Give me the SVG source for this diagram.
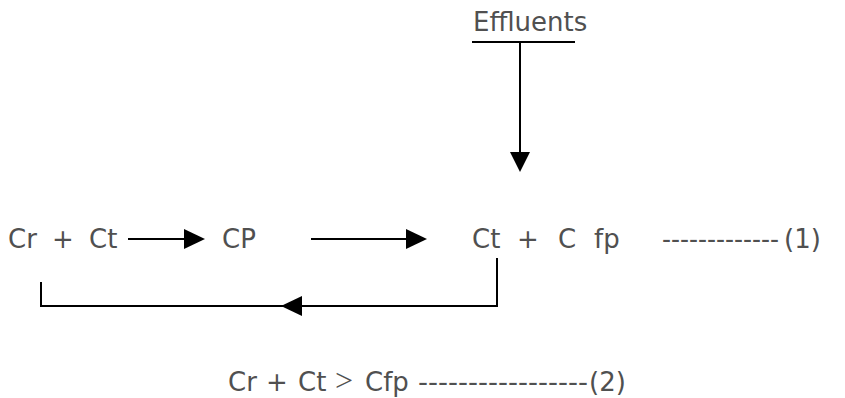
<svg xmlns="http://www.w3.org/2000/svg" width="845" height="398" viewBox="0 0 845 398">
<style>
text{font-family:"DejaVu Sans","Verdana",sans-serif;font-size:26px;fill:#505050}
.ln{stroke:#000;stroke-width:2;fill:none}
.hd{fill:#000}
</style>
<rect width="845" height="398" fill="#fff"/>
<g id="effluents"><text x="473" y="31">Effluents</text></g>
<g id="crct"><text y="248"><tspan x="8">Cr</tspan><tspan x="52">+</tspan><tspan x="89">Ct</tspan></text></g>
<g id="cp"><text x="222" y="248">CP</text></g>
<g id="ctcfp"><text y="248"><tspan x="472">Ct</tspan><tspan x="517">+</tspan><tspan x="558">C</tspan><tspan x="594">fp</tspan></text></g>
<g id="eq1"><text y="248"><tspan x="662" textLength="117" lengthAdjust="spacingAndGlyphs">-------------</tspan><tspan x="784">(1)</tspan></text></g>
<g id="eq2"><text y="391"><tspan x="228">Cr</tspan><tspan x="266">+</tspan><tspan x="298">Ct</tspan><tspan x="335" font-family="Liberation Serif,serif" font-size="32">&gt;</tspan><tspan x="365">Cfp</tspan><tspan x="418" textLength="170" lengthAdjust="spacingAndGlyphs">-----------------</tspan><tspan x="589">(2)</tspan></text></g>
<g id="connectors">
<path class="ln" d="M472 42H575M520 42V154"/>
<polygon class="hd" points="510,152 530,152 520,172"/>
<path class="ln" d="M128 239H186"/>
<polygon class="hd" points="184,229 184,249 205,239"/>
<path class="ln" d="M311 239H408"/>
<polygon class="hd" points="406,229 406,249 427,239"/>
<path class="ln" d="M497 258V306H300M302 306H41V282"/>
<polygon class="hd" points="302,296 302,316 281,306"/>
</g>
</svg>
